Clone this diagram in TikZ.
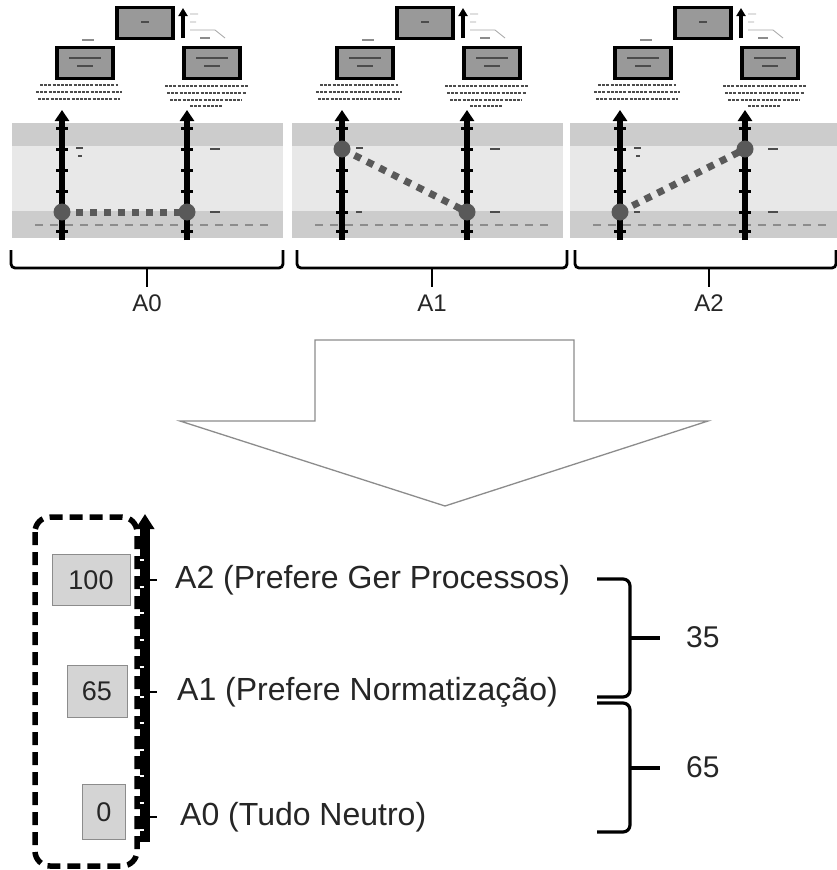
\documentclass[tikz,border=0pt]{standalone}
\usepackage{fontspec}
\setmainfont{Liberation Sans}
\usetikzlibrary{arrows.meta}
\tikzset{
  bandd/.style={fill=black!20},
  bandl/.style={fill=black!9},
  varrow/.style={line width=5.5pt,-{Triangle[length=11pt,width=14pt]}},
  tickmk/.style={line width=3pt},
  prefline/.style={line width=7pt,black!65,dash pattern=on 7pt off 7pt},
  prefdot/.style={fill=black!65},
  topbox/.style={draw=black,line width=3.5pt,fill=black!40},
  blurtxt/.style={line width=1.8pt,black!70},
  blurdot/.style={line width=2.2pt,black!70,dash pattern=on 3pt off 1.2pt},
  blurlight/.style={line width=1.6pt,white!80!black},
  blurnum/.style={line width=1.6pt,black!45},
  brk/.style={line width=2.8pt,rounded corners=4pt},
  biglab/.style={font=\fontsize{32}{38}\selectfont,text=black!85,anchor=west,inner sep=0pt},
  panlab/.style={font=\fontsize{24}{28}\selectfont,text=black!85,inner sep=0pt},
  valbox/.style={draw=black!45,fill=black!17,line width=1pt,font=\fontsize{27}{32}\selectfont,text=black!85,inner sep=0pt},
  difflab/.style={font=\fontsize{30}{36}\selectfont,text=black!85,anchor=west,inner sep=0pt},
  curly/.style={line width=3.2pt,rounded corners=7pt},
}
\begin{document}
\begin{tikzpicture}[x=1pt,y=-1pt]
\useasboundingbox[fill=white] (0,0) rectangle (837,870);

% ---------- three small panels ----------
\foreach \ox/\ly/\ry/\pn in {10/212/212/a, 290/149/212/b, 568/212/149/c}{
\begin{scope}[shift={(\ox,0)}]
  % bands
  \fill[bandd] (2,123) rectangle (273,146);
  \fill[bandl] (2,146) rectangle (273,211);
  \fill[bandd] (2,211) rectangle (273,238);
  \foreach \bx in {85,98,...,215} \draw[blurlight] (\bx,134) -- (\bx+6,134);
  \foreach \bx in {25,40,...,255} \draw[blurnum] (\bx,225) -- (\bx+8,225);
  % top boxes
  \node[topbox,minimum width=56pt,minimum height=31pt] (\pn top) at (135,23) {};
  \draw[blurtxt] (131,22) -- (139,22);
  \node[topbox,minimum width=56pt,minimum height=31pt] (\pn lft) at (75,63) {};
  \draw[blurtxt] (59,58) -- (91,58);
  \draw[blurtxt] (67,66) -- (83,66);
  \node[topbox,minimum width=56pt,minimum height=31pt] (\pn rgt) at (202,63) {};
  \draw[blurtxt] (186,58) -- (218,58);
  \draw[blurtxt] (194,66) -- (210,66);
  \coordinate (\pn ua) at (173,38);
  \coordinate (\pn ub) at (173,8);
  \draw[line width=3.5pt,-{Triangle[length=8pt,width=9pt]}] (\pn ua) -- (\pn ub);
  \draw[line width=0.8pt,black!35] (180,14) -- (188,14) (180,22) -- (186,22) (180,30) -- (205,30) -- (215,38);
  \draw[line width=1.5pt,black!45] (190,38) -- (200,38) (72,40) -- (84,40);
  % texts under boxes
  \draw[blurdot] (30,85) -- (108,85) (26,92) -- (112,92) (28,99) -- (110,99);
  \draw[blurdot] (155,86) -- (238,86) (157,93) -- (236,93) (160,100) -- (232,100) (180,106) -- (212,106);
  % vertical arrows
  \coordinate (\pn l0) at (52,240);
  \coordinate (\pn l1) at (52,110);
  \coordinate (\pn r0) at (177,240);
  \coordinate (\pn r1) at (177,110);
  \draw[varrow] (\pn l0) -- (\pn l1);
  \draw[varrow] (\pn r0) -- (\pn r1);
  \foreach \ty in {128,149,170,191,212,231}{
    \draw[tickmk] (46,\ty) -- (58,\ty);
    \draw[tickmk] (171,\ty) -- (183,\ty);
  }
  % small percent labels
  \draw[blurtxt] (66,148) -- (73,148) (68,156) -- (72,156);
  \draw[blurtxt] (200,149) -- (210,149) (200,212) -- (210,212);
  \draw[blurtxt] (66,212) -- (72,212);
  % preference line and dots
  \coordinate (\pn dl) at (52,\ly);
  \coordinate (\pn dr) at (177,\ry);
  \draw[prefline] (\pn dl) -- (\pn dr);
  \fill[prefdot] (\pn dl) circle (8.5pt);
  \fill[prefdot] (\pn dr) circle (8.5pt);
\end{scope}
}

% ---------- brackets under the panels ----------
\draw[brk] (11,250) -- (11,268) -- (283,268) -- (283,250);
\draw[line width=2.8pt] (147,268) -- (147,287);
\node[panlab] (labA0) at (147,303) {A0};
\draw[brk] (297,250) -- (297,268) -- (567,268) -- (567,250);
\draw[line width=2.8pt] (432,268) -- (432,287);
\node[panlab] (labA1) at (432,303) {A1};
\draw[brk] (575,250) -- (575,268) -- (836,268) -- (836,250);
\draw[line width=2.8pt] (709,268) -- (709,287);
\node[panlab] (labA2) at (709,303) {A2};

% ---------- big down arrow ----------
\draw[black!45,line width=1.3pt,line join=miter]
  (315,340) -- (574,340) -- (574,421) -- (708,421) -- (445,506) -- (180,421) -- (315,421) -- cycle;

% ---------- bottom scale ----------
\draw[line width=5.5pt,dash pattern=on 13pt off 7pt,rounded corners=15pt] (35,517) rectangle (137,866);
\coordinate (axb) at (145,842);
\coordinate (axt) at (145,514);
\draw[line width=10pt,-{Triangle[length=15pt,width=18pt]}] (axb) -- (axt);
\foreach \ty in {560,587,613,640,667,697,723,750,776,803,830}
  \draw[white,line width=1.8pt] (139.5,\ty) -- (143.5,\ty);
\foreach \ty in {580,692,817}
  \draw[line width=2.8pt] (149,\ty) -- (157,\ty);

\node[valbox,minimum width=78pt,minimum height=51pt] (v100) at (91,580) {100};
\node[valbox,minimum width=60pt,minimum height=52pt] (v65) at (97,691) {65};
\node[valbox,minimum width=43pt,minimum height=55pt] (v0) at (104,812) {0};

\node[biglab] (l2) at (175,580) {A2 (Prefere Ger Processos)};
\node[biglab] (l1) at (177,692) {A1 (Prefere Normatização)};
\node[biglab] (l0) at (180,817) {A0 (Tudo Neutro)};

% braces
\draw[curly] (597,579) -- (630,579) -- (630,697) -- (597,697);
\draw[line width=3.2pt] (630,638) -- (660,638);
\draw[curly] (597,703) -- (630,703) -- (630,832) -- (597,832);
\draw[line width=3.2pt] (630,768) -- (660,768);
\node[difflab] (d35) at (686,637) {35};
\node[difflab] (d65) at (686,767) {65};
\end{tikzpicture}
\end{document}
